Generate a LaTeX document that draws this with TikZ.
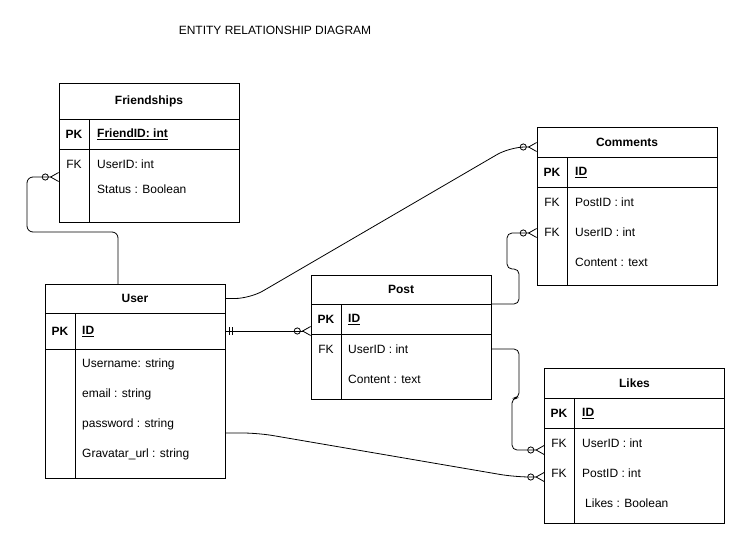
\documentclass[tikz,border=0pt]{standalone}
\usepackage{fontspec}
\setmainfont{Liberation Sans}
\usetikzlibrary{arrows.meta,positioning}

\begin{document}
\begin{tikzpicture}[x=1pt,y=-1pt,font=\fontsize{12pt}{14pt}\selectfont,
    box/.style={draw=black, line width=0.9pt, minimum width=180pt, inner sep=0pt, outer sep=0pt},
    txt/.style={anchor=west, inner sep=0pt},
    conn/.style={draw=black, line width=0.8pt},
    zeromany/.style={-{Circle[open,length=7pt,width=7pt,sep=1pt]Straight Barb[reversed,length=8pt,width=9pt]}}]
    \useasboundingbox (0,0) rectangle (745,544);

    \node (title) at (275,30) {ENTITY RELATIONSHIP DIAGRAM};

    % Friendships
    \node (fhead)[box, minimum height=36pt] at (149,101) {\textbf{Friendships}};
    \node (fpk)[box, minimum height=30pt]   at (149,134) {};
    \node (fbody)[box, minimum height=73pt] at (149,185.5) {};
    \draw[line width=0.9pt] (89,119) -- (89,222);
    \node (fpkk) at (74,134.5) {\textbf{PK}};
    \node (fid)[txt] at (97,134.5) {\underline{\textbf{FriendID: int}}};
    \node (ffk) at (74,164.5) {FK};
    \node (fuser)[txt] at (97,164.5) {UserID: int};
    \node (fstatus)[txt] at (97,189.5) {Status : Boolean};

    % User
    \node (uhead)[box, minimum height=29pt]  at (135,298.5) {\textbf{User}};
    \node (upk)[box, minimum height=36pt]    at (135,331) {};
    \node (ubody)[box, minimum height=129pt] at (135,413.5) {};
    \draw[line width=0.9pt] (75,313) -- (75,478);
    \node (upkk) at (60,331.5) {\textbf{PK}};
    \node (uid)[txt] at (82,331.5) {\underline{\textbf{ID}}};
    \node (uname)[txt] at (82,364.5) {Username: string};
    \node (umail)[txt] at (82,394.5) {email : string};
    \node (upass)[txt] at (82,424.5) {password : string};
    \node (ugrav)[txt] at (82,454.5) {Gravatar\_url : string};

    % Post
    \node (phead)[box, minimum height=29pt] at (401,289.5) {\textbf{Post}};
    \node (ppk)[box, minimum height=30pt]   at (401,319) {};
    \node (pbody)[box, minimum height=65pt] at (401,366.5) {};
    \draw[line width=0.9pt] (341,304) -- (341,399);
    \node (ppkk) at (326,319.5) {\textbf{PK}};
    \node (pid)[txt] at (348,319.5) {\underline{\textbf{ID}}};
    \node (pfk) at (326,349.5) {FK};
    \node (puser)[txt] at (348,349.5) {UserID : int};
    \node (pcont)[txt] at (348,379.5) {Content : text};

    % Comments
    \node (chead)[box, minimum height=30pt] at (627,142) {\textbf{Comments}};
    \node (cpk)[box, minimum height=30pt]   at (627,172) {};
    \node (cbody)[box, minimum height=98pt] at (627,236) {};
    \draw[line width=0.9pt] (567,157) -- (567,285);
    \node (cpkk) at (552,172.5) {\textbf{PK}};
    \node (cid)[txt] at (575,172.5) {\underline{\textbf{ID}}};
    \node (cfk1) at (552,202.5) {FK};
    \node (cpost)[txt] at (575,202.5) {PostID : int};
    \node (cfk2) at (552,232.5) {FK};
    \node (cuser)[txt] at (575,232.5) {UserID : int};
    \node (ccont)[txt] at (575,262.5) {Content : text};

    % Likes
    \node (lhead)[box, minimum height=30pt] at (634.5,383) {\textbf{Likes}};
    \node (lpk)[box, minimum height=30pt]   at (634.5,413) {};
    \node (lbody)[box, minimum height=95pt] at (634.5,475.5) {};
    \draw[line width=0.9pt] (574.5,398) -- (574.5,523);
    \node (lpkk) at (559,413.5) {\textbf{PK}};
    \node (lid)[txt] at (582,413.5) {\underline{\textbf{ID}}};
    \node (lfk1) at (559,443.5) {FK};
    \node (luser)[txt] at (582,443.5) {UserID : int};
    \node (lfk2) at (559,473.5) {FK};
    \node (lpost)[txt] at (582,473.5) {PostID : int};
    \node (llike)[txt] at (585,503.5) {Likes : Boolean};

    % relations
    \draw[conn, zeromany, rounded corners=6pt] ([xshift=-17pt]uhead.north) -- (118,232) -- (27,232) -- (27,177) -- ([yshift=8.5pt]fbody.west);
    \draw[conn, zeromany, rounded corners=15pt] (uhead.east) -- (250,298.5) -- (510,147) -- ([yshift=-5pt]chead.west);
    \draw[conn, zeromany] (upk.east) -- coordinate[pos=0.047] (bar1) coordinate[pos=0.082] (bar2) ([yshift=-12pt]ppk.west);
    \draw[conn] ([yshift=4pt]bar1) -- ([yshift=-4pt]bar1) ([yshift=4pt]bar2) -- ([yshift=-4pt]bar2);
    \draw[conn, zeromany, rounded corners=15pt] ([yshift=-19.5pt]ubody.east) -- (258,433) -- (515,477) -- ([yshift=-1.5pt]lbody.west);
    \draw[conn, zeromany, rounded corners=5pt] (phead.south east) -- (519,304) -- (519,269) -- (507,269) -- (507,233) -- ([yshift=3pt]cbody.west);
    \draw[conn, zeromany, rounded corners=5pt] ([yshift=17.5pt]pbody.east) -- (519,349) -- (519,398) -- (512,398) -- (512,450) -- ([yshift=25.5pt]lbody.west);
\end{tikzpicture}
\end{document}
